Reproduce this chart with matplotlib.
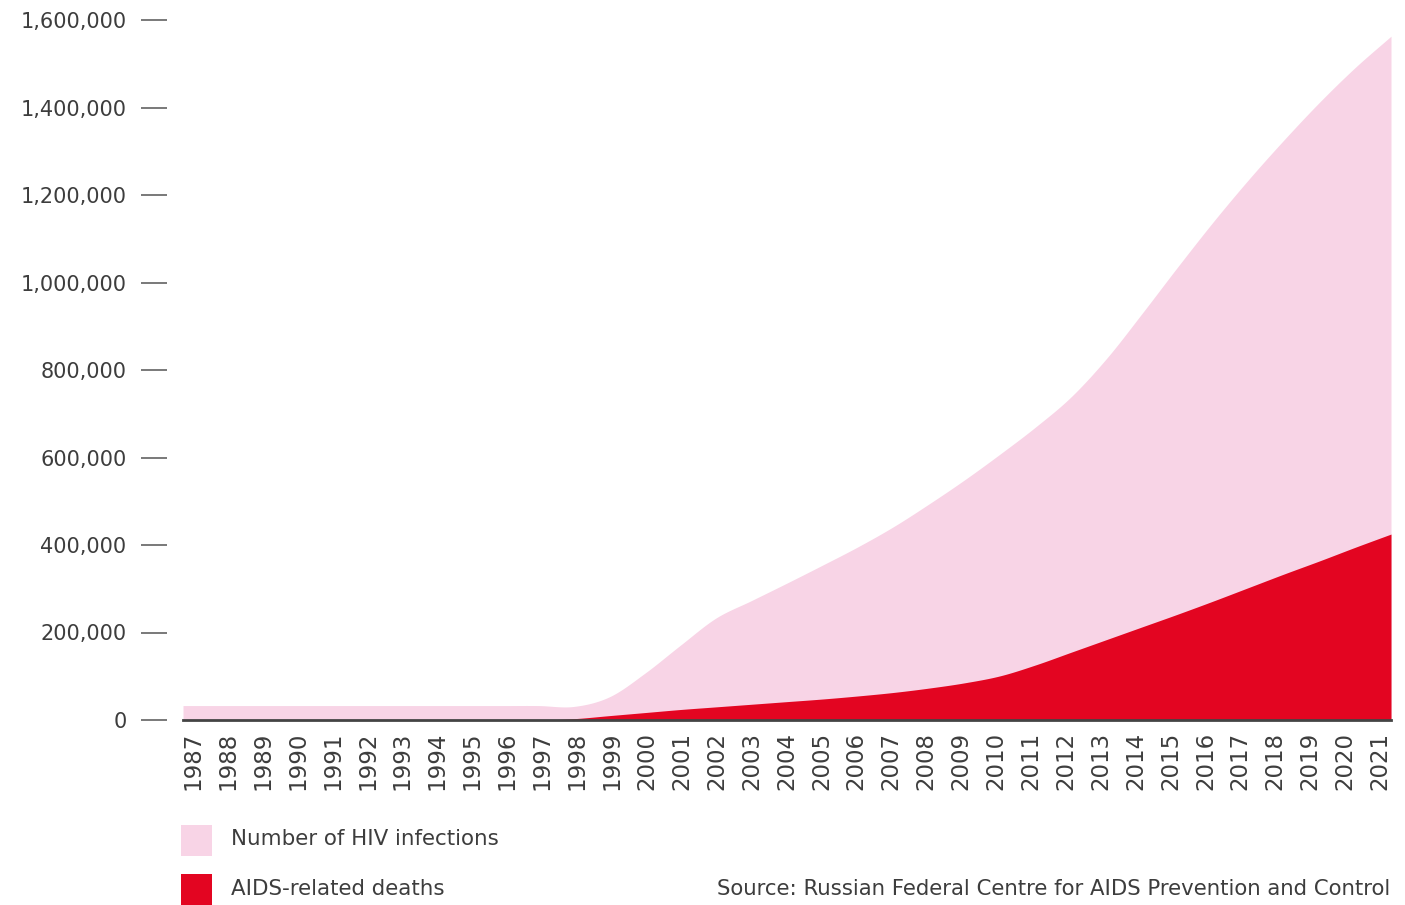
import numpy as np
import matplotlib
matplotlib.use("Agg")
import matplotlib.pyplot as plt
from matplotlib.patches import Rectangle

# ---------------- data ----------------
years = list(range(1987, 2022))
hiv_infections = [33000, 33000, 33000, 33000, 33000, 33000, 33000, 33000, 33000, 33000, 33000,
                  31000, 53000, 107000, 171000, 233000, 273000, 313000, 354000, 396000,
                  442000, 494000, 549000, 608000, 670000, 739000, 827000, 930000, 1036000,
                  1139000, 1236000, 1327000, 1413000, 1492000, 1563000]
aids_deaths = [0, 0, 0, 0, 0, 0, 0, 0, 0, 0, 0,
               3000, 10000, 17000, 24000, 30000, 36000, 42000, 48000, 55000,
               63000, 73000, 85000, 101000, 126000, 155000, 184000, 213000, 242000,
               272000, 303000, 334000, 364000, 395000, 425000]
y_ticks = [0, 200000, 400000, 600000, 800000, 1000000, 1200000, 1400000, 1600000]
legend_labels = ["Number of HIV infections", "AIDS-related deaths"]
source_text = "Source: Russian Federal Centre for AIDS Prevention and Control"

PINK = "#F8D4E6"
RED = "#E30521"
TXT = "#3d3d3d"
W, H = 1405, 905


def catmull_rom(x, y, n=30):
    x = np.asarray(x, float)
    y = np.asarray(y, float)
    m = np.empty_like(y)
    m[1:-1] = (y[2:] - y[:-2]) / 2.0
    m[0] = y[1] - y[0]
    m[-1] = y[-1] - y[-2]
    xs, ys = [], []
    for i in range(len(x) - 1):
        t = np.linspace(0, 1, n, endpoint=False)
        h00 = 2 * t**3 - 3 * t**2 + 1
        h10 = t**3 - 2 * t**2 + t
        h01 = -2 * t**3 + 3 * t**2
        h11 = t**3 - t**2
        xs.append(x[i] + t * (x[i + 1] - x[i]))
        ys.append(h00 * y[i] + h10 * m[i] + h01 * y[i + 1] + h11 * m[i + 1])
    xs.append([x[-1]])
    ys.append([y[-1]])
    return np.concatenate(xs), np.concatenate(ys)


plt.rcParams["font.family"] = ["DejaVu Sans"]

fig = plt.figure(figsize=(W / 100, H / 100), dpi=100)
ax = fig.add_axes([183 / W, 1 - 720 / H, (1391 - 183) / W, (720 - 20) / H])

xh, yh = catmull_rom(years, hiv_infections)
xd, yd = catmull_rom(years, aids_deaths)
yd = np.clip(yd, 0, None)

ax.fill_between(xh, 0, yh, color=PINK, linewidth=0, zorder=1)
ax.fill_between(xd, 0, yd, color=RED, linewidth=0, zorder=2)

ax.set_xlim(years[0], years[-1])
ax.set_ylim(0, 1600000)

for s in ["top", "right", "left"]:
    ax.spines[s].set_visible(False)
ax.spines["bottom"].set_color("#444444")
ax.spines["bottom"].set_linewidth(2)
ax.spines["bottom"].set_zorder(5)
ax.spines["left"].set_position(("outward", 11.5))

ax.set_yticks(y_ticks)
ax.set_yticklabels([f"{v:,}" for v in y_ticks])
ax.tick_params(axis="y", length=18.7, width=1.1, color="#555555", pad=10.5,
               labelsize=15, labelcolor=TXT)

# year labels sit slightly inside the area's extent
n = len(years)
tick_pos = [years[0] + 0.28 + i * (33.41 / (n - 1)) for i in range(n)]
ax.set_xticks(tick_pos)
ax.set_xticklabels([str(y) for y in years], rotation=90)
ax.tick_params(axis="x", length=0, pad=8.5, labelsize=16.5, labelcolor=TXT)

# legend
def fx(px):
    return px / W


def fy(py):
    return 1 - py / H


fig.add_artist(Rectangle((fx(181), fy(856)), 31 / W, 31 / H, transform=fig.transFigure,
                         facecolor=PINK, edgecolor="none"))
fig.add_artist(Rectangle((fx(181), fy(905)), 31 / W, 31 / H, transform=fig.transFigure,
                         facecolor=RED, edgecolor="none"))
fig.text(fx(231), fy(839), legend_labels[0], fontsize=15.4, color=TXT, va="center", ha="left")
fig.text(fx(231), fy(889), legend_labels[1], fontsize=15.4, color=TXT, va="center", ha="left")
fig.text(fx(1390), fy(889), source_text, fontsize=15.3, color=TXT, va="center", ha="right")

fig.savefig("out.png", dpi=100, facecolor="white")
